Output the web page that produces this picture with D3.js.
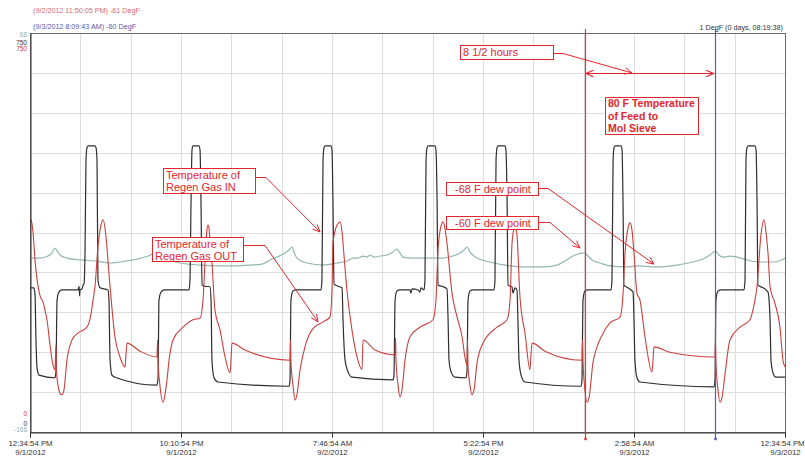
<!DOCTYPE html>
<html>
<head>
<meta charset="utf-8">
<script src="https://cdn.jsdelivr.net/npm/d3@7"></script>
<style>
  html, body { margin: 0; padding: 0; background: #fff; }
  svg { display: block; font-family: "Liberation Sans", Arial, sans-serif; }
</style>
</head>
<body>
<svg id="chart" width="805" height="457"></svg>
<script>
// ---- time frame (48 h trend window) ----
const startTime = new Date(2012, 8, 1, 12, 34, 54);
const spanHours = 48;

// major time ticks (hours from start) and their two-line labels
const tickHours = [0, 9.6, 19.2, 28.8, 38.4, 48];
const tickLabels = [
  ["12:34:54 PM", "9/1/2012"],
  ["10:10:54 PM", "9/1/2012"],
  ["7:46:54 AM", "9/2/2012"],
  ["5:22:54 PM", "9/2/2012"],
  ["2:58:54 AM", "9/3/2012"],
  ["12:34:54 PM", "9/3/2012"]
];

// value ranges of the stacked left axes
const tempRange = [0, 750];
const dewRange = [-166, 68];

// cursors: time and dew point read-out
const cursorTimes = [new Date(2012, 8, 2, 23, 50, 5), new Date(2012, 8, 3, 8, 9, 43)];
const cursorLabels = ["(9/2/2012 11:50:05 PM) -61 DegF", "(9/3/2012 8:09:43 AM) -60 DegF"];
const cursorDelta = "1 DegF (0 days, 08:19:38)";

// Regen gas IN temperature [hours, degF]
const regenGasIn = [
  [0,271],[0.25,271],[0.32,258],[0.38,173],[0.45,120],[0.57,107],[1.59,102],[1.65,113],[1.72,248],[1.84,263],[2.03,267],
  [3.05,267],[3.12,274],[3.15,256],[3.18,267],[3.31,269],[3.37,276],[3.43,278],[3.50,342],[3.56,511],[3.62,534],[3.69,538],
  [4.13,538],[4.20,534],[4.26,511],[4.32,286],[4.45,271],[4.96,267],[5.02,248],[5.09,135],[5.21,107],[5.40,103],
  [8.07,88],[8.14,102],[8.20,248],[8.33,263],[8.52,267],[10.11,267],[10.17,286],[10.24,436],[10.30,530],[10.36,538],
  [10.74,538],[10.81,530],[10.87,436],[10.94,276],[11.13,274],[11.44,273],[11.51,248],[11.57,135],[11.70,102],[11.95,94],
  [16.47,86],[16.53,98],[16.59,248],[16.72,265],[16.91,267],[18.50,267],[18.56,286],[18.63,511],[18.69,534],[18.75,538],
  [19.14,538],[19.20,530],[19.26,436],[19.33,278],[19.58,274],[19.84,271],[19.90,211],[20.03,135],[20.22,113],[20.47,103],
  [23.08,98],[23.14,107],[23.21,248],[23.33,265],[23.52,267],[24.16,267],[24.22,261],[24.29,269],[24.67,267],[24.79,263],
  [24.86,271],[25.05,267],[25.11,286],[25.18,511],[25.24,534],[25.30,538],[25.75,538],[25.81,530],[25.88,436],[25.94,276],
  [26.19,274],[26.51,269],[26.58,211],[26.64,135],[26.77,113],[27.02,103],[27.72,102],[27.78,113],[27.85,248],[27.97,265],
  [28.16,267],[29.50,267],[29.56,286],[29.63,511],[29.69,534],[29.75,538],[30.20,538],[30.26,530],[30.33,436],[30.39,276],
  [30.64,273],[30.71,261],[30.83,271],[30.96,267],[31.02,211],[31.09,135],[31.22,107],[31.47,94],[35.03,86],[35.09,98],
  [35.16,248],[35.28,265],[35.48,267],[36.94,267],[37.00,286],[37.07,511],[37.13,534],[37.19,538],[37.57,538],[37.64,530],
  [37.70,436],[37.76,276],[38.02,271],[38.34,263],[38.40,211],[38.46,135],[38.59,102],[38.78,94],[43.49,85],[43.55,98],
  [43.61,248],[43.74,265],[43.93,267],[45.39,267],[45.46,286],[45.52,511],[45.58,534],[45.65,538],[46.09,538],[46.16,530],
  [46.22,436],[46.28,276],[46.60,271],[46.92,263],[47.05,211],[47.11,135],[47.24,111],[47.43,103],[48.00,103]
];

// Regen gas OUT temperature [hours, degF]
const regenGasOut = [
  [0,395],[0.06,399],[0.13,391],[0.19,376],[0.32,323],[0.45,286],[0.64,256],[0.83,244],[0.95,229],[1.08,211],[1.27,164],
  [1.46,126],[1.59,117],[1.65,164],[1.68,117],[1.78,88],[1.91,73],[2.03,70],[2.16,79],[2.23,98],[2.35,135],[2.42,148],
  [2.67,173],[3.05,186],[3.62,197],[3.81,211],[4.01,248],[4.13,273],[4.32,348],[4.51,389],[4.64,399],[4.77,383],[4.83,367],
  [5.09,273],[5.40,179],[5.72,141],[6.04,122],[6.10,145],[6.17,167],[6.99,152],[8.07,141],[8.11,173],[8.14,135],[8.26,88],
  [8.46,56],[8.58,70],[8.71,98],[8.84,135],[9.09,173],[9.73,197],[10.36,211],[10.81,214],[11.00,248],[11.13,323],[11.25,380],
  [11.32,389],[11.38,383],[11.44,361],[11.57,318],[11.76,229],[12.08,192],[12.40,141],[12.72,111],[12.78,135],[12.84,167],
  [13.67,154],[16.53,135],[16.56,173],[16.59,132],[16.72,88],[16.85,60],[16.97,70],[17.17,117],[17.48,160],[17.93,192],
  [18.63,207],[19.07,216],[19.20,267],[19.26,355],[19.52,389],[19.71,395],[19.84,376],[19.96,333],[20.15,267],[20.47,192],
  [20.79,141],[21.11,117],[21.17,173],[21.93,154],[23.21,145],[23.24,177],[23.27,135],[23.40,88],[23.52,66],[23.65,79],
  [23.84,135],[24.16,179],[24.79,197],[25.62,211],[25.81,248],[25.94,342],[26.13,387],[26.26,395],[26.38,383],[26.51,355],
  [26.83,261],[27.15,216],[27.47,179],[27.66,139],[27.78,126],[27.82,173],[27.85,122],[27.97,88],[28.10,70],[28.23,79],
  [28.42,130],[28.80,167],[29.69,197],[30.33,211],[30.52,248],[30.64,352],[30.77,383],[30.83,387],[30.96,370],[31.15,254],
  [31.47,186],[31.79,117],[31.85,145],[31.92,167],[32.74,152],[35.09,135],[35.13,173],[35.16,132],[35.28,79],[35.41,56],
  [35.54,64],[35.79,130],[36.05,160],[36.37,182],[36.87,205],[37.51,216],[37.70,258],[37.83,336],[38.02,383],[38.15,393],
  [38.27,380],[38.40,336],[38.59,261],[38.78,248],[39.10,179],[39.54,113],[39.61,135],[39.67,160],[40.69,150],[43.55,141],
  [43.58,173],[43.61,132],[43.74,79],[43.87,56],[43.99,64],[44.18,107],[44.50,173],[45.14,197],[45.77,211],[46.03,239],
  [46.22,273],[46.47,370],[46.66,399],[46.79,376],[46.92,336],[47.05,273],[47.36,242],[47.68,197],[47.87,135],[48.00,122]
];

// Dew point of feed [hours, degF]
const dewPoint = [
  [0,-64.0],[0.64,-64.0],[1.14,-62.8],[1.40,-61.0],[1.59,-58.1],[1.72,-59.8],[1.91,-62.2],[2.35,-64.0],[3.18,-65.1],
  [4.13,-65.7],[5.09,-66.9],[5.72,-66.3],[6.55,-65.1],[7.31,-63.4],[7.76,-61.6],[8.01,-59.3],[8.14,-58.1],[8.33,-61.6],
  [8.77,-64.5],[9.54,-66.9],[10.81,-68.1],[12.72,-68.6],[13.99,-68.1],[14.75,-67.5],[15.26,-65.1],[15.70,-63.4],
  [16.21,-61.0],[16.53,-58.7],[16.66,-57.5],[16.78,-60.4],[16.97,-64.0],[17.61,-66.9],[18.63,-68.1],[19.52,-66.9],
  [20.15,-65.7],[20.54,-64.0],[20.85,-64.0],[21.17,-62.8],[21.43,-63.4],[21.62,-62.2],[21.87,-63.4],[22.25,-62.8],
  [22.70,-62.2],[23.08,-60.4],[23.33,-58.7],[23.52,-61.0],[23.71,-63.4],[24.35,-64.0],[24.99,-64.0],[26.26,-64.0],
  [26.89,-62.8],[27.34,-61.0],[27.66,-58.7],[27.78,-57.5],[27.97,-60.4],[28.42,-64.0],[29.25,-66.3],[30.20,-68.1],
  [31.34,-69.2],[32.61,-69.2],[33.50,-68.1],[34.01,-65.7],[34.65,-62.2],[35.25,-61.0],[35.41,-62.2],[35.73,-65.1],
  [36.24,-66.9],[36.87,-68.6],[37.83,-69.2],[38.78,-68.6],[39.74,-69.2],[41.13,-68.1],[42.15,-66.3],[42.78,-64.5],
  [43.23,-62.2],[43.58,-60.0],[43.80,-62.2],[44.06,-63.4],[44.50,-62.8],[44.95,-63.4],[45.58,-65.1],[46.41,-66.3],
  [47.36,-66.3],[48.00,-64.0]
];

// ---- layout ----
const W = 805, H = 457;
const plot = { left: 30, right: 785, top: 33, bottom: 432 };
const colors = {
  inLine: "#2e2e2e", outLine: "#c9403e", dew: "#92b6b2",
  grid: "#dedede", note: "#e3262b", cursorA: "#dd3a3a", cursorB: "#5a5ab8"
};

const svg = d3.select("#chart");
const toDate = h => new Date(startTime.getTime() + h * 3600000);
const endTime = toDate(spanHours);

const x = d3.scaleTime().domain([startTime, endTime]).range([plot.left, plot.right]);
const yTemp = d3.scaleLinear().domain(tempRange).range([plot.bottom, plot.top]);
const yDew = d3.scaleLinear().domain(dewRange).range([plot.bottom, plot.top]);

// ---- grid ----
const grid = svg.append("g").attr("stroke", colors.grid).attr("stroke-width", 1);
d3.range(1, 15).forEach(k => {
  const gx = Math.round(x(toDate(k * spanHours / 15))) + 0.5;
  grid.append("line").attr("x1", gx).attr("x2", gx).attr("y1", plot.top).attr("y2", plot.bottom);
});
d3.range(1, 10).forEach(k => {
  const gy = Math.round(yTemp(k * 75)) + 0.5;
  grid.append("line").attr("x1", plot.left).attr("x2", plot.right).attr("y1", gy).attr("y2", gy);
});

// plot frame
svg.append("rect")
  .attr("x", plot.left + 0.5).attr("y", plot.top + 0.5)
  .attr("width", plot.right - plot.left).attr("height", plot.bottom - plot.top)
  .attr("fill", "none").attr("stroke", "#6a6a6a");

// ---- series ----
svg.append("clipPath").attr("id", "clip").append("rect")
  .attr("x", plot.left).attr("y", plot.top)
  .attr("width", plot.right - plot.left).attr("height", plot.bottom - plot.top);

const series = svg.append("g").attr("clip-path", "url(#clip)").attr("fill", "none");
const tempLine = d3.line().x(d => x(toDate(d[0]))).y(d => yTemp(d[1])).curve(d3.curveMonotoneX);
const dewLine = d3.line().x(d => x(toDate(d[0]))).y(d => yDew(d[1])).curve(d3.curveMonotoneX);

series.append("path").attr("d", dewLine(dewPoint)).attr("stroke", colors.dew).attr("stroke-width", 1.2);
series.append("path").attr("d", tempLine(regenGasIn)).attr("stroke", colors.inLine).attr("stroke-width", 1.2);
series.append("path").attr("d", tempLine(regenGasOut)).attr("stroke", colors.outLine).attr("stroke-width", 1.1);

// ---- axes ----
const xAxis = d3.axisBottom(x)
  .tickValues(tickHours.map(toDate))
  .tickSize(5)
  .tickFormat(() => "");
const gx = svg.append("g").attr("transform", `translate(0,${plot.bottom + 0.5})`).call(xAxis);
gx.select(".domain").attr("stroke", "#333");
gx.selectAll(".tick line").attr("stroke", "#333");
const lastTick = tickHours.length - 1;
gx.selectAll(".tick").each(function (d, i) {
  const t = d3.select(this).append("text")
    .attr("fill", "#333").attr("font-size", 7.8).attr("text-anchor", "middle")
    .attr("font-family", "'Liberation Sans', Arial, sans-serif");
  // the right-most time label is nudged inward so it stays inside the page
  t.append("tspan").attr("x", i === lastTick ? -3 : 0).attr("y", 13).text(tickLabels[i][0]);
  t.append("tspan").attr("x", 0).attr("y", 22).text(tickLabels[i][1]);
});

const gy = svg.append("g").attr("transform", `translate(${plot.left + 0.5},0)`)
  .call(d3.axisLeft(yTemp).tickValues([]).tickSizeOuter(0));
gy.select(".domain").attr("stroke", "#333");

// stacked axis end labels
const yLab = svg.append("g").attr("font-size", 6.5).attr("text-anchor", "end");
yLab.append("text").attr("x", 27).attr("y", yDew(dewRange[1]) + 3.5).attr("fill", "#8fb0ad").text(dewRange[1]);
yLab.append("text").attr("x", 27).attr("y", yTemp(tempRange[1]) + 11.5).attr("fill", "#333").text(tempRange[1]);
yLab.append("text").attr("x", 27).attr("y", yTemp(tempRange[1]) + 17.5).attr("fill", "#c9403e").text(tempRange[1]);
yLab.append("text").attr("x", 27).attr("y", yTemp(tempRange[0]) - 16.5).attr("fill", "#c9403e").text(tempRange[0]);
yLab.append("text").attr("x", 27).attr("y", yTemp(tempRange[0]) - 6.5).attr("fill", "#333").text(tempRange[0]);
yLab.append("text").attr("x", 27).attr("y", yDew(dewRange[0]) - 0.5).attr("fill", "#8fb0ad").text(dewRange[0]);

// ---- cursors ----
const cursorColors = [colors.cursorA, colors.cursorB];
cursorTimes.forEach((t, i) => {
  const cx = Math.round(x(t)) + 0.5;
  svg.append("line").attr("x1", cx).attr("x2", cx).attr("y1", 29).attr("y2", plot.bottom + 7)
    .attr("stroke", cursorColors[i]).attr("stroke-width", 1.2);
  svg.append("circle").attr("cx", cx).attr("cy", plot.bottom + 7).attr("r", 1.4).attr("fill", cursorColors[i]);
});
svg.append("text").attr("x", 33).attr("y", 12.5).attr("font-size", 7.2).attr("fill", "#d86a6a").text(cursorLabels[0]);
svg.append("text").attr("x", 33).attr("y", 28.5).attr("font-size", 7.2).attr("fill", "#5a5aa8").text(cursorLabels[1]);
svg.append("text").attr("x", 783).attr("y", 29.5).attr("font-size", 7.2).attr("fill", "#333")
  .attr("text-anchor", "end").text(cursorDelta);

// ---- annotations ----
const notes = svg.append("g");
function arrowHead(tip, from, len = 8, spread = 0.42) {
  const a = Math.atan2(from[1] - tip[1], from[0] - tip[0]);
  const p1 = [tip[0] + len * Math.cos(a + spread), tip[1] + len * Math.sin(a + spread)];
  const p2 = [tip[0] + len * Math.cos(a - spread), tip[1] + len * Math.sin(a - spread)];
  return `M${p1}L${tip}L${p2}`;
}
function callout(box, lines, bold, leader, tip) {
  notes.append("rect").attr("x", box[0] + 0.5).attr("y", box[1] + 0.5).attr("width", box[2]).attr("height", box[3])
    .attr("fill", "#fff").attr("stroke", colors.note).attr("stroke-width", 1);
  lines.forEach(l => {
    notes.append("text").attr("x", l[0]).attr("y", l[1]).attr("font-size", bold ? 10.5 : 11)
      .attr("font-weight", bold ? "bold" : "normal").attr("fill", colors.note).text(l[2]);
  });
  if (leader) {
    const pts = leader.concat([tip]);
    notes.append("path").attr("d", d3.line()(pts)).attr("fill", "none").attr("stroke", colors.note).attr("stroke-width", 1);
    notes.append("path").attr("d", arrowHead(tip, pts[pts.length - 2])).attr("fill", "none")
      .attr("stroke", colors.note).attr("stroke-width", 1);
  }
}

callout([163, 168, 92, 25], [[166, 179, "Temperature of"], [166, 191, "Regen Gas IN"]], false,
  [[255, 177.5], [266, 177.5]], [x(toDate(18.44)), yTemp(376)]);
callout([152, 237, 91, 24], [[155, 248, "Temperature of"], [155, 259.5, "Regen Gas OUT"]], false,
  [[243, 245.5], [265, 245.5]], [x(toDate(18.31)), yTemp(207)]);
callout([460, 45, 93, 14], [[463, 56, "8 1/2 hours"]], false,
  [[553, 53.5], [563, 53.5]], [x(toDate(38.27)), yTemp(675)]);
callout([605, 97, 93, 37], [[608, 107, "80 F Temperature"], [608, 119.5, "of Feed to"], [608, 132, "Mol Sieve"]], true,
  null, null);
callout([446, 182, 92, 13], [[455, 192.5, "-68 F dew point"]], false,
  [[538, 188.5], [548, 188.5]], [x(toDate(39.67)), yDew(-67.5)]);
callout([446, 216, 92, 13], [[455, 226.5, "-60 F dew point"]], false,
  [[538, 222.5], [550, 222.5]], [x(toDate(34.97)), yDew(-58.1)]);

// span between cursors
const spanY = Math.round(yTemp(675)) + 0.5;
const sx1 = x(cursorTimes[0]) + 1.5, sx2 = x(cursorTimes[1]) - 2;
notes.append("line").attr("x1", sx1).attr("x2", sx2).attr("y1", spanY).attr("y2", spanY)
  .attr("stroke", colors.note).attr("stroke-width", 1.2);
notes.append("path").attr("d", arrowHead([sx1, spanY], [sx2, spanY]) + arrowHead([sx2, spanY], [sx1, spanY]))
  .attr("fill", "none").attr("stroke", colors.note).attr("stroke-width", 1.2);
</script>
</body>
</html>
